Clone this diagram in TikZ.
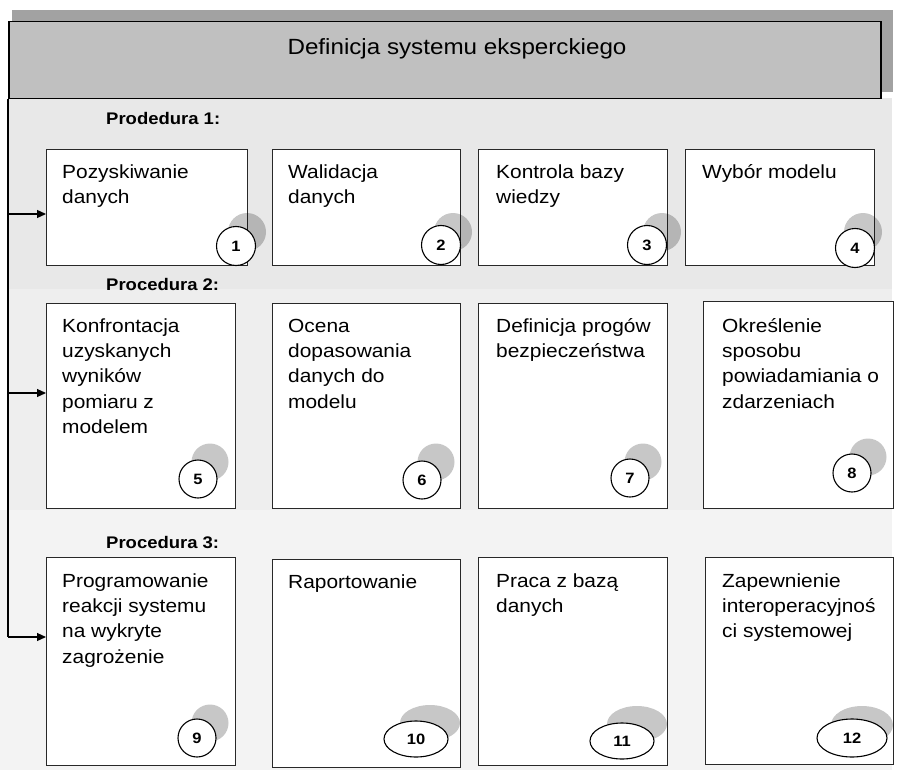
\documentclass[tikz,border=0pt]{standalone}
\usepackage{fontspec}
\setmainfont{Liberation Sans}[FakeStretch=1.1]
\usetikzlibrary{shapes.geometric,arrows.meta,calc}
\definecolor{bandA}{HTML}{E8E8E8}
\definecolor{bandB}{HTML}{EEEEEE}
\definecolor{bandC}{HTML}{F3F3F3}
\definecolor{titlefill}{HTML}{C0C0C0}
\definecolor{titleshadow}{HTML}{A2A2A2}
\definecolor{boxline}{HTML}{282828}
\tikzset{
  stepbox/.style={draw=boxline, line width=1.2pt, fill=white, anchor=north west, inner sep=0},
  btxt/.style={anchor=north west, inner sep=0, align=left, font=\fontsize{19}{25.3}\selectfont},
  proc/.style={anchor=base west, inner sep=0, font=\fontsize{16.8}{20}\selectfont\bfseries},
  numc/.style={circle, draw=black, line width=1.1pt, fill=white, minimum size=38pt, inner sep=0, font=\fontsize{15}{17}\selectfont\bfseries},
  nume/.style={ellipse, draw=black, line width=1.1pt, fill=white, inner sep=0, font=\fontsize{15}{17}\selectfont\bfseries},
  shad/.style={circle, fill=black, fill opacity=0.22, minimum size=37pt, inner sep=0},
  shade/.style={ellipse, fill=black, fill opacity=0.22, inner sep=0},
  arr/.style={line width=1.2pt, -{Triangle[length=9pt,width=8pt]}},
  frame/.style={line width=1.2pt}
}
\begin{document}
\begin{tikzpicture}[x=1pt,y=-1pt]
\useasboundingbox (0,0) rectangle (901,770);
% bands
\fill[bandC] (0,510) rectangle (892,770);
\fill[bandB] (8,289) rectangle (892,510);
\fill[bandA] (8,98) rectangle (892,289);
% title
\fill[titleshadow] (12,10) rectangle (893,92);
\node[draw=black, line width=1.5pt, fill=titlefill, anchor=north west, minimum width=872pt, minimum height=77pt, inner sep=0] (tb) at (8,21) {};
\node[anchor=base, inner sep=0, font=\fontsize{22}{26}\selectfont] (tt) at (457,55) {Definicja systemu eksperckiego};
% procedure labels
\node[proc] (p1) at (106,125) {Prodedura 1:};
\node[proc] (p2) at (106,290) {Procedura 2:};
\node[proc] (p3) at (106,548) {Procedura 3:};
% boxes row 1
\node[stepbox, minimum width=201pt, minimum height=116pt] (b1) at (46,149) {};
\node[stepbox, minimum width=188pt, minimum height=116pt] (b2) at (272,149) {};
\node[stepbox, minimum width=189pt, minimum height=116pt] (b3) at (478,149) {};
\node[stepbox, minimum width=189pt, minimum height=116pt] (b4) at (685,149) {};
% boxes row 2
\node[stepbox, minimum width=189pt, minimum height=205pt] (b5) at (46,303) {};
\node[stepbox, minimum width=188pt, minimum height=205pt] (b6) at (272,303) {};
\node[stepbox, minimum width=189pt, minimum height=205pt] (b7) at (478,303) {};
\node[stepbox, minimum width=190pt, minimum height=207pt] (b8) at (703,301) {};
% boxes row 3
\node[stepbox, minimum width=189pt, minimum height=208pt] (b9) at (46,557) {};
\node[stepbox, minimum width=188pt, minimum height=208pt] (b10) at (272,559) {};
\node[stepbox, minimum width=189pt, minimum height=208pt] (b11) at (478,557) {};
\node[stepbox, minimum width=188pt, minimum height=207pt] (b12) at (705,557) {};
% texts
\node[btxt] (t1) at ($(b1.north west)+(16,11.3)$) {\strut Pozyskiwanie\\danych};
\node[btxt] (t2) at ($(b2.north west)+(16,11.3)$) {\strut Walidacja\\danych};
\node[btxt] (t3) at ($(b3.north west)+(18,11.3)$) {\strut Kontrola bazy\\wiedzy};
\node[btxt] (t4) at ($(b4.north west)+(17,11.3)$) {\strut Wybór modelu};
\node[btxt] (t5) at ($(b5.north west)+(16,11.3)$) {\strut Konfrontacja\\uzyskanych\\wyników\\pomiaru z\\modelem};
\node[btxt] (t6) at ($(b6.north west)+(16,11.3)$) {\strut Ocena\\dopasowania\\danych do\\modelu};
\node[btxt] (t7) at ($(b7.north west)+(18,11.3)$) {\strut Definicja progów\\bezpieczeństwa};
\node[btxt] (t8) at ($(b8.north west)+(19,13.3)$) {\strut Określenie\\sposobu\\powiadamiania o\\zdarzeniach};
\node[btxt] (t9) at ($(b9.north west)+(16,12.3)$) {\strut Programowanie\\reakcji systemu\\na wykryte\\zagrożenie};
\node[btxt] (t10) at ($(b10.north west)+(16,11.3)$) {\strut Raportowanie};
\node[btxt] (t11) at ($(b11.north west)+(18,12.3)$) {\strut Praca z bazą\\danych};
\node[btxt] (t12) at ($(b12.north west)+(17,12.3)$) {\strut Zapewnienie\\interoperacyjnoś\\ci systemowej};
% markers row 1
\node[shad, minimum size=38pt] (s1) at (247,232) {};
\node[numc, minimum size=39pt] (n1) at (236,246) {1};
\node[shad, minimum size=38pt] (s2) at (453,232) {};
\node[numc, minimum size=39pt] (n2) at (441,245) {2};
\node[shad, minimum size=38pt] (s3) at (662,232) {};
\node[numc, minimum size=39pt] (n3) at (647,245) {3};
\node[shad, minimum size=38pt] (s4) at (863,232) {};
\node[numc, minimum size=39pt] (n4) at (855,248) {4};
% markers row 2
\node[shad] (s5) at (210,462) {};
\node[numc] (n5) at (198,479) {5};
\node[shad] (s6) at (436,462) {};
\node[numc] (n6) at (422,480) {6};
\node[shad] (s7) at (643,462) {};
\node[numc] (n7) at (630,478) {7};
\node[shad] (s8) at (868,457) {};
\node[numc] (n8) at (852,473) {8};
% markers row 3
\node[shad] (s9) at (210,723) {};
\node[numc] (n9) at (197,738) {9};
\node[shade, minimum width=60pt, minimum height=36pt] (s10) at (430,723) {};
\node[nume, minimum width=64pt, minimum height=36pt] (n10) at (416,739) {10};
\node[shade, minimum width=60pt, minimum height=36pt] (s11) at (637,724) {};
\node[nume, minimum width=64pt, minimum height=36pt] (n11) at (622,741) {11};
\node[shade, minimum width=62pt, minimum height=38pt] (s12) at (862,725) {};
\node[nume, minimum width=70pt, minimum height=38pt] (n12) at (852,738) {12};
% connectors
\coordinate (a1) at (8,214);
\coordinate (a2) at (8,393);
\coordinate (a3) at (8,637);
\draw[frame] (tb.south west) -- (a3);
\draw[arr] (a1) -- (a1 -| b1.west);
\draw[arr] (a2) -- (a2 -| b5.west);
\draw[arr] (a3) -- (a3 -| b9.west);
\end{tikzpicture}
\end{document}
